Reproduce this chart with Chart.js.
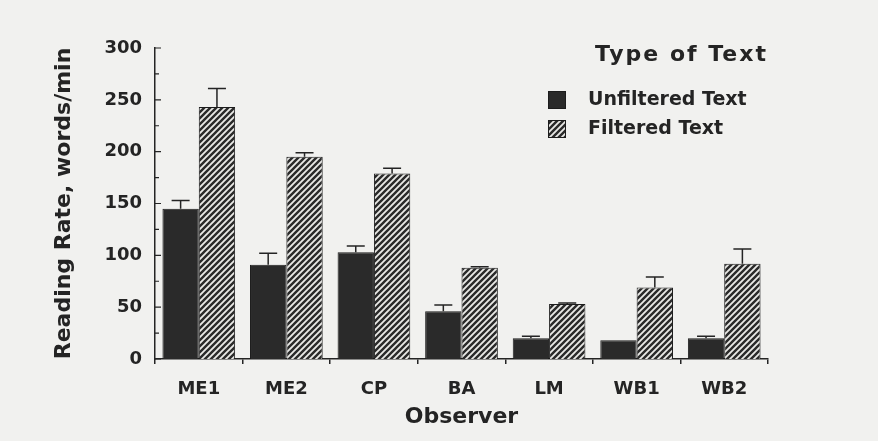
<!DOCTYPE html>
<html><head><meta charset="utf-8">
<script src="https://cdn.jsdelivr.net/npm/chart.js@4"></script>
<style>html,body{margin:0;padding:0;background:#f1f1ef;} #wrap{width:878px;height:441px;}</style>
</head><body><div id="wrap"><canvas id="c" width="878" height="441"></canvas></div>
<script>
const categories = ['ME1', 'ME2', 'CP', 'BA', 'LM', 'WB1', 'WB2'];
const unfiltered = [145, 91, 103, 46, 20, 18, 20];
const unfilteredErr = [8, 11, 6, 6, 2, 0, 2];
const filtered = [243, 195, 179, 88, 53, 69, 92];
const filteredErr = [18, 4, 5, 1, 1, 10, 14];
const yTicks = [0, 50, 100, 150, 200, 250, 300];
const seriesNames = ['Unfiltered Text', 'Filtered Text'];
const legendTitle = 'Type of Text';
const xTitle = 'Observer';
const yTitle = 'Reading Rate, words/min';

const INK = '#242424';
function hatch() {
  const s = 6, c = document.createElement('canvas');
  c.width = s; c.height = s;
  const g = c.getContext('2d');
  g.fillStyle = '#e9e9e6'; g.fillRect(0, 0, s, s);
  g.strokeStyle = '#2a2a2a'; g.lineWidth = 2.4;
  g.beginPath();
  g.moveTo(-1, 1); g.lineTo(1, -1);
  g.moveTo(0, s); g.lineTo(s, 0);
  g.moveTo(s - 1, s + 1); g.lineTo(s + 1, s - 1);
  g.stroke();
  return g.createPattern(c, 'repeat');
}

const errorBars = {
  id: 'errorBars',
  afterDatasetsDraw(chart) {
    const {ctx, scales: {y}} = chart;
    chart.data.datasets.forEach((ds, i) => {
      const meta = chart.getDatasetMeta(i);
      meta.data.forEach((bar, j) => {
        const e = ds.errors[j];
        if (!e) return;
        const v = ds.data[j];
        const y0 = y.getPixelForValue(v), y1 = y.getPixelForValue(v + e);
        ctx.save();
        ctx.strokeStyle = INK; ctx.lineWidth = 1.5;
        ctx.beginPath();
        ctx.moveTo(bar.x, y0); ctx.lineTo(bar.x, y1);
        ctx.moveTo(bar.x - 9, y1); ctx.lineTo(bar.x + 9, y1);
        ctx.stroke();
        ctx.restore();
      });
    });
  }
};

const innerTicks = {
  id: 'innerTicks',
  afterDraw(chart) {
    const {ctx, scales: {y}, chartArea: a} = chart;
    ctx.save();
    ctx.strokeStyle = INK; ctx.lineWidth = 1.2;
    ctx.beginPath();
    for (let k = 0; k < yTicks.length; k++) {
      const py = y.getPixelForValue(yTicks[k]);
      ctx.moveTo(a.left, py); ctx.lineTo(a.left + 6, py);
      if (k < yTicks.length - 1) {
        const pm = y.getPixelForValue((yTicks[k] + yTicks[k + 1]) / 2);
        ctx.moveTo(a.left, pm); ctx.lineTo(a.left + 4, pm);
      }
    }
    ctx.stroke();
    ctx.restore();
  }
};

const legendBox = {
  id: 'legendBox',
  afterDraw(chart) {
    const {ctx, chartArea: a} = chart;
    ctx.save();
    ctx.fillStyle = INK; ctx.textBaseline = 'middle';
    ctx.font = 'bold 22px "DejaVu Sans"'; ctx.textAlign = 'right';
    ctx.letterSpacing = '2px';
    ctx.fillText(legendTitle, a.right, a.top + 7);
    ctx.letterSpacing = '0px';
    ctx.font = 'bold 19px "DejaVu Sans"'; ctx.textAlign = 'left';
    chart.data.datasets.forEach((ds, i) => {
      const yc = a.top + 52 + i * 29, x = a.right - 220;
      ctx.fillStyle = ds.backgroundColor; ctx.fillRect(x, yc - 9, 18, 18);
      ctx.strokeStyle = ds.borderColor; ctx.lineWidth = 1; ctx.strokeRect(x + 0.5, yc - 8.5, 17, 17);
      ctx.fillStyle = INK; ctx.fillText(ds.label, x + 40, yc);
    });
    ctx.restore();
  }
};

Chart.defaults.font.family = '"DejaVu Sans"';
Chart.defaults.font.weight = 'bold';
Chart.defaults.color = INK;

new Chart(document.getElementById('c'), {
  type: 'bar',
  data: {
    labels: categories,
    datasets: [
      {label: seriesNames[0], data: unfiltered, errors: unfilteredErr, backgroundColor: '#2a2a2a', borderColor: '#1c1c1c', borderWidth: 1},
      {label: seriesNames[1], data: filtered, errors: filteredErr, backgroundColor: hatch(), borderColor: '#1c1c1c', borderWidth: 1}
    ]
  },
  options: {
    responsive: false,
    animation: false,
    layout: {padding: {top: 48, right: 110, bottom: 0, left: 0}},
    datasets: {bar: {categoryPercentage: 0.83, barPercentage: 1}},
    plugins: {legend: {display: false}, tooltip: {enabled: false}},
    scales: {
      x: {
        afterFit: s => { s.height = 82; },
        grid: {display: true, drawOnChartArea: false, drawTicks: true, tickLength: 5, color: INK, lineWidth: 1.5},
        border: {color: INK, width: 1.5},
        ticks: {padding: 15, font: {size: 18, weight: 'bold'}, color: INK},
        title: {display: true, text: xTitle, font: {size: 22, weight: 'bold'}, color: INK, padding: {top: 0, bottom: 11}}
      },
      y: {
        min: 0, max: 300,
        afterFit: s => { s.width = 155; },
        afterBuildTicks: s => { s.ticks = yTicks.map(v => ({value: v})); },
        grid: {display: false, drawTicks: false},
        border: {color: INK, width: 1.5},
        ticks: {padding: 13, font: {size: 18, weight: 'bold'}, color: INK},
        title: {display: true, text: yTitle, font: {size: 22, weight: 'bold'}, color: INK, padding: {top: 51, bottom: 0}}
      }
    }
  },
  plugins: [errorBars, innerTicks, legendBox]
});
</script>
</body></html>
